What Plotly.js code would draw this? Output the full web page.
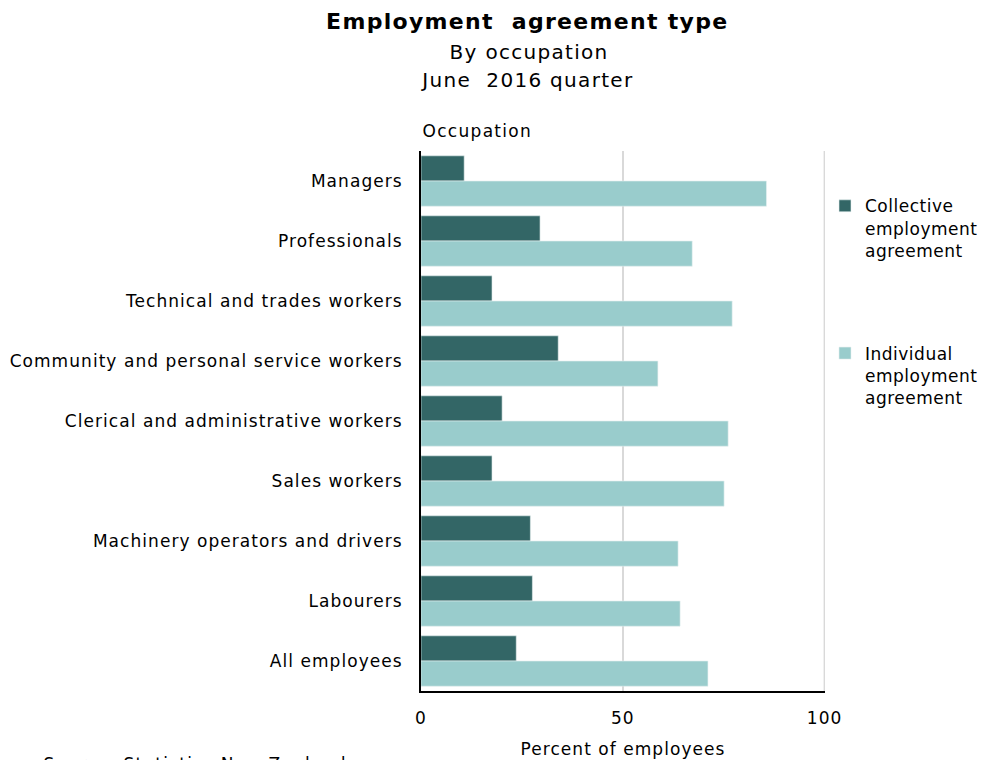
<!DOCTYPE html>
<html>
<head>
<meta charset="utf-8">
<script src="https://cdn.plot.ly/plotly-3.0.1.min.js"></script>
<style>
html,body{margin:0;padding:0;background:#fff;}
#chart{width:982px;height:760px;}
#chart .ytick text, #chart .g-xtitle text, #chart .xtick text{letter-spacing:1.05px;}
#chart .legendtext{letter-spacing:0.5px;}
#chart .annotation-text{letter-spacing:1.3px;}
</style>
</head>
<body>
<div id="chart"></div>
<script>
const categories = ["Managers","Professionals","Technical and trades workers","Community and personal service workers","Clerical and administrative workers","Sales workers","Machinery operators and drivers","Labourers","All employees"];
const collective = [10.7, 29.5, 17.6, 34.0, 20.1, 17.6, 27.1, 27.6, 23.6];
const individual = [85.6, 67.2, 77.1, 58.7, 76.1, 75.1, 63.7, 64.2, 71.1];
const seriesNames = ["Collective<br>employment<br>agreement", "Individual<br>employment<br>agreement"];
const xTicks = [0, 50, 100];

const font = "DejaVu Sans, Verdana, sans-serif";
const traces = [
  {type:"bar", orientation:"h", y:categories, x:collective, name:seriesNames[0], legendgroup:"a",
   marker:{color:"#336666", line:{color:"#e6f0f0", width:0.6}}, hoverinfo:"x+y"},
  {type:"bar", orientation:"h", y:categories, x:individual, name:seriesNames[1], legendgroup:"b",
   marker:{color:"#99cccc", line:{color:"#e6f0f0", width:0.6}}, hoverinfo:"x+y"}
];
const layout = {
  width:982, height:760,
  margin:{l:421, r:157, t:151, b:69, autoexpand:false},
  paper_bgcolor:"#fff", plot_bgcolor:"#fff",
  barmode:"group", bargap:0.16, bargroupgap:0,
  font:{family:font, size:16, color:"#000"},
  showlegend:true,
  legend:{x:(825-421)/404, y:0.931, xanchor:"left", yanchor:"top", traceorder:"grouped", valign:"top",
          tracegroupgap:78, font:{family:font, size:17, color:"#000"}, itemwidth:30},
  xaxis:{range:[0,100.1], tickvals:xTicks, ticktext:xTicks.map(String), showgrid:true,
         gridcolor:"#d9d9d9", gridwidth:2, zeroline:false, showline:true, linecolor:"#000",
         linewidth:2, ticks:"", tickfont:{family:font, size:17}, ticklabelstandoff:11,
         title:{text:"Percent of employees", font:{family:font, size:17}, standoff:16},
         fixedrange:true},
  yaxis:{autorange:"reversed", showline:true, linecolor:"#000", linewidth:2, ticks:"",
         ticksuffix:"  ", tickfont:{family:font, size:17}, showgrid:false, fixedrange:true},
  shapes:[
    {type:"line", xref:"x", x0:100, x1:100, yref:"y domain", y0:0, y1:1, layer:"below",
     line:{color:"#d9d9d9", width:2}}
  ],
  annotations:[
    {text:"<b>Employment  agreement type</b>", xref:"paper", yref:"paper", x:(527-421)/404, y:(691-22)/540,
     xanchor:"center", yanchor:"middle", showarrow:false, font:{family:font, size:22}},
    {text:"By occupation", xref:"paper", yref:"paper", x:(529-421)/404, y:(691-52)/540,
     xanchor:"center", yanchor:"middle", showarrow:false, font:{family:font, size:20}},
    {text:"June  2016 quarter", xref:"paper", yref:"paper", x:(527-421)/404, y:(691-80)/540,
     xanchor:"center", yanchor:"middle", showarrow:false, font:{family:font, size:20}},
    {text:"Occupation", xref:"paper", yref:"paper", x:(427-421)/404, y:(691-131)/540,
     xanchor:"left", yanchor:"middle", showarrow:false, font:{family:font, size:17}},
    {text:"Source: Statistics New Zealand", xref:"paper", yref:"paper", x:(61-421)/404, y:(691-752)/540,
     xanchor:"left", yanchor:"top", showarrow:false, font:{family:font, size:17}}
  ]
};
Plotly.newPlot("chart", traces, layout, {displayModeBar:false, staticPlot:true});
</script>
</body>
</html>
